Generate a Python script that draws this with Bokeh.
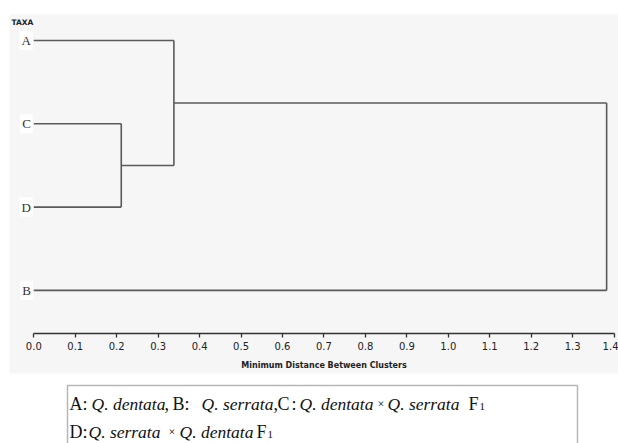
from bokeh.plotting import figure
from bokeh.models import Range1d, BoxAnnotation, Label, FixedTicker, ColumnDataSource
from bokeh.embed import file_html
from bokeh.resources import INLINE
from bokeh.core.properties import value

# ---------------- data ----------------
leaf_order = ["A", "C", "D", "B"]           # top to bottom
merge_left = ["C", "A", "ACD"]
merge_right = ["D", "CD", "B"]
merge_names = ["CD", "ACD", "ROOT"]
merge_heights = [0.211, 0.338, 1.382]        # minimum distance between clusters
tick_values = [0.0, 0.1, 0.2, 0.3, 0.4, 0.5, 0.6, 0.7, 0.8, 0.9, 1.0, 1.1, 1.2, 1.3, 1.4]
tick_labels = ["0.0", "0.1", "0.2", "0.3", "0.4", "0.5", "0.6", "0.7", "0.8", "0.9",
               "1.0", "1.1", "1.2", "1.3", "1.4"]
x_title = "Minimum Distance Between Clusters"
y_title = "TAXA"
legend_line1 = [("A:", "normal"), ("Q. dentata", "italic"), (",", "normal"), ("B:", "normal"),
                ("Q. serrata", "italic"), (",", "normal"), ("C", "normal"), (":", "normal"),
                ("Q. dentata", "italic"), ("×", "small"), ("Q. serrata", "italic"),
                ("F", "normal"), ("1", "sub")]
legend_line2 = [("D:", "normal"), ("Q. serrata", "italic"), ("×", "small"),
                ("Q. dentata", "italic"), ("F", "normal"), ("1", "sub")]

# ---------------- page geometry helpers ----------------
W, H = 618, 443
PX0, PXU = 33.3, 414.5      # page x of 0.0 and px per unit
PY0, PYU = 40.0, 83.3       # page y of first leaf and px per leaf


def fx(px):
    return (px - PX0) / PXU


def fy(py):
    return (py - PY0) / PYU


p = figure(width=W, height=H, output_backend="svg", toolbar_location=None,
           x_range=Range1d(fx(0), fx(W)), y_range=Range1d(fy(H), fy(0)),
           y_axis_location=None, x_axis_location="below", min_border=0)
p.grid.visible = False
p.outline_line_color = None
p.background_fill_color = "white"
p.border_fill_color = "white"

# grey panel
p.add_layout(BoxAnnotation(left=fx(9), right=fx(640), top=fy(14), bottom=fy(373),
                           fill_color="#f6f6f6", fill_alpha=1.0, line_color=None, level="underlay"))

# ---------------- dendrogram ----------------
pos_y = {name: i for i, name in enumerate(leaf_order)}
pos_x = {name: 0.0 for name in leaf_order}
x0s, y0s, x1s, y1s = [], [], [], []
for a, b, name, h in zip(merge_left, merge_right, merge_names, merge_heights):
    for child in (a, b):
        x0s.append(pos_x[child]); y0s.append(pos_y[child])
        x1s.append(h); y1s.append(pos_y[child])
    x0s.append(h); y0s.append(pos_y[a]); x1s.append(h); y1s.append(pos_y[b])
    pos_x[name] = h
    pos_y[name] = (pos_y[a] + pos_y[b]) / 2.0

p.segment(x0=x0s, y0=y0s, x1=x1s, y1=y1s, line_color="#5a5a5a", line_width=1.6)

src = ColumnDataSource(dict(x=[0.0] * len(leaf_order), y=list(range(len(leaf_order))), t=leaf_order))
p.text(x="x", y="y", text="t", source=src, x_offset=-1, text_align="right", text_baseline="middle",
       text_font=value("Liberation Serif"), text_font_size="13px", text_color="#333333",
       background_fill_color="white", padding=2)

p.add_layout(Label(x=fx(11), y=fy(22), text=y_title, text_font="DejaVu Sans", text_font_size="7.5px",
                   text_font_style="bold", text_color="#222222", text_baseline="middle"))

# ---------------- axis ----------------
ax = p.xaxis[0]
ax.fixed_location = fy(332.5)
ax.bounds = (tick_values[0], tick_values[-1])
ax.ticker = FixedTicker(ticks=tick_values)
ax.major_label_overrides = {v: s for v, s in zip(tick_values, tick_labels)}
ax.minor_tick_line_color = None
ax.major_tick_in = 0
ax.major_tick_out = 4
ax.axis_line_color = "#333333"
ax.axis_line_width = 1.3
ax.major_tick_line_color = "#333333"
ax.major_tick_line_width = 1.3
ax.major_label_standoff = 5
ax.major_label_text_font = "DejaVu Sans"
ax.major_label_text_font_size = "10px"
ax.major_label_text_color = "#222222"
ax.axis_label = x_title
ax.axis_label_standoff = 7
ax.axis_label_text_font = "DejaVu Sans"
ax.axis_label_text_font_size = "8px"
ax.axis_label_text_font_style = "bold"
ax.axis_label_text_color = "#222222"

# ---------------- legend box ----------------
p.add_layout(BoxAnnotation(left=fx(67), right=fx(577), top=fy(385), bottom=fy(470),
                           fill_color="white", fill_alpha=1.0, line_color="#111111", line_width=1.5))

line1_x = [69, 91, 164, 172, 201, 273, 277, 291, 299, 377, 387, 468, 479]
line2_x = [69, 88, 168, 179, 256, 267]
for segs, xs, base in ((legend_line1, line1_x, 403), (legend_line2, line2_x, 431)):
    for (txt, kind), px in zip(segs, xs):
        size, style, by = "18px", "normal", base
        if kind == "italic":
            style = "italic"
            size = "17.5px"
        elif kind == "small":
            size = "12px"
        elif kind == "sub":
            size = "11px"
            by = base + 3
        p.add_layout(Label(x=fx(px), y=fy(by), text=txt, text_font="Liberation Serif",
                           text_font_size=size, text_font_style=style, text_color="#111111",
                           text_baseline="alphabetic"))

open("out.html", "w").write(file_html(p, INLINE))
